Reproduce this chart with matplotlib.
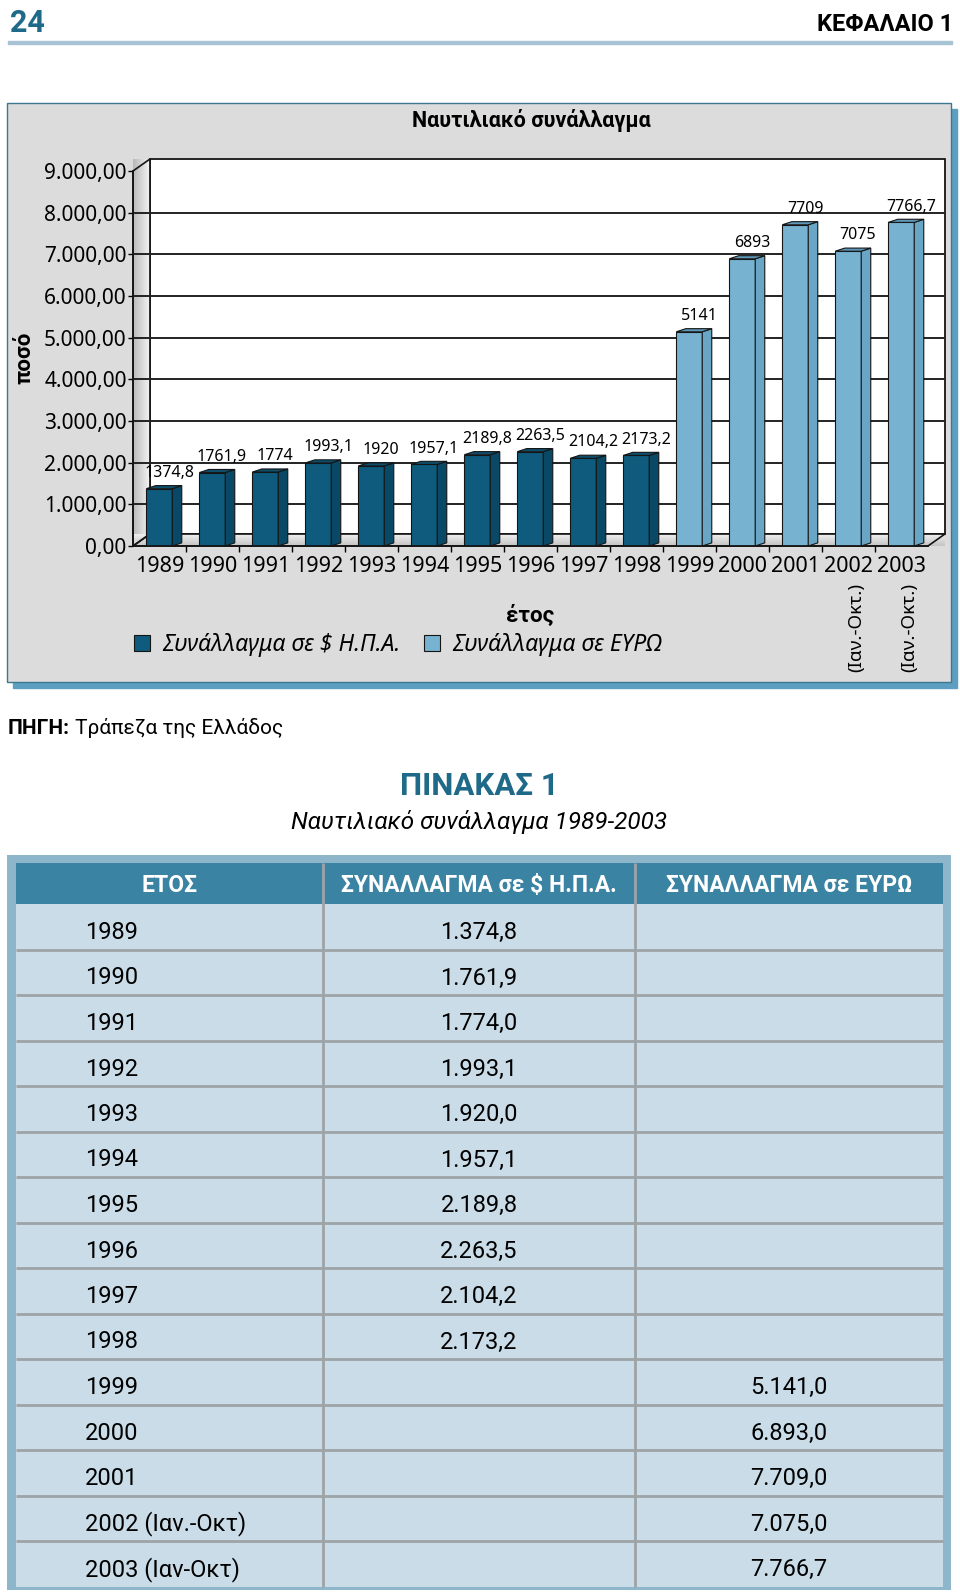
import matplotlib
matplotlib.use("Agg")
import matplotlib.pyplot as plt
import numpy as np
from matplotlib.patches import Rectangle, Polygon
from matplotlib.colors import LinearSegmentedColormap

plt.rcParams.update({"font.family": ["Noto Sans", "DejaVu Sans"]})
COND = ["Roboto", "DejaVu Sans"]

TEAL = "#1e6a88"
USD = "#0e5b7d"; USD_SIDE = "#0a4966"; USD_TOP = "#0c4e6c"
EUR = "#77b2d1"; EUR_SIDE = "#69a5c5"; EUR_TOP = "#5e98b8"
EDGE = "#151515"

# ---------- data ----------
years = ["1989", "1990", "1991", "1992", "1993", "1994", "1995", "1996",
         "1997", "1998", "1999", "2000", "2001", "2002", "2003"]
usd = [1374.8, 1761.9, 1774.0, 1993.1, 1920.0, 1957.1, 2189.8, 2263.5, 2104.2, 2173.2]
eur = [5141.0, 6893.0, 7709.0, 7075.0, 7766.7]
partial = "(Ιαν.-Οκτ.)"
partial_years = ["2002", "2003"]
y_ticks = [0, 1000, 2000, 3000, 4000, 5000, 6000, 7000, 8000, 9000]
table_years = years[:13] + ["2002 (Ιαν.-Οκτ)", "2003 (Ιαν-Οκτ)"]
table_head = ["ΕΤΟΣ", "ΣΥΝΑΛΛΑΓΜΑ σε $ Η.Π.Α.", "ΣΥΝΑΛΛΑΓΜΑ σε ΕΥΡΩ"]
legend_labels = ["Συνάλλαγμα σε $ Η.Π.Α.", "Συνάλλαγμα σε ΕΥΡΩ"]


def gr(v, d):
    s = f"{v:,.{d}f}"
    return s.replace(",", "X").replace(".", ",").replace("X", ".")


def lab(v):
    return f"{v:.1f}".rstrip("0").rstrip(".").replace(".", ",")


W, H = 960, 1596
fig = plt.figure(figsize=(W / 100, H / 100), dpi=100)
page = fig.add_axes([0, 0, 1, 1])
page.set_xlim(0, W); page.set_ylim(H, 0); page.axis("off")

# ---------- page header ----------
page.text(10, 32, "24", color=TEAL, fontsize=22, fontweight="bold", family=COND, va="baseline")
page.text(953, 31, "ΚΕΦΑΛΑΙΟ 1", ha="right", va="baseline", fontsize=17,
          fontweight="bold", family=COND)
page.add_patch(Rectangle((8, 40.5), 944, 3.5, color="#a8c3d3"))

# ---------- chart panel ----------
page.add_patch(Rectangle((13, 109), 944, 579, color="#5d9fc1"))
page.add_patch(Rectangle((7, 103), 944, 579, fc="#dcdcdc", ec="#3c7890", lw=1))
page.text(531, 121, "Ναυτιλιακό συνάλλαγμα", ha="center", va="center", fontsize=15.5,
          fontweight="bold", family=COND)
page.text(24, 358, "ποσό", rotation=90, ha="center", va="center", fontsize=16,
          fontweight="bold", family=COND)
page.text(530, 616, "έτος", ha="center", va="center", fontsize=16, fontweight="bold", family=COND)

x0, x1, y0, y9 = 133, 928, 546, 171
ax = fig.add_axes([x0 / W, 1 - y0 / H, (x1 - x0) / W, (y0 - y9) / H])
ax.patch.set_visible(False)
DX, DY = 0.32, 288   # depth offset of back wall (category units, value units)

ax.add_patch(Rectangle((-0.5 + DX, DY), 15, 9000, fc="white", ec=EDGE, lw=1.3,
                       clip_on=False, zorder=0))
lwall = Polygon([(-0.5, 0), (-0.5, 9000), (-0.5 + DX, 9000 + DY), (-0.5 + DX, DY)],
                closed=True, fc="none", ec=EDGE, lw=1.2, clip_on=False, zorder=1.5)
ax.add_patch(lwall)
im = ax.imshow(np.linspace(0, 1, 64)[None, :],
               cmap=LinearSegmentedColormap.from_list("w", ["#b9b9b9", "#f4f4f4"]),
               extent=[-0.5, -0.5 + DX, 0, 9000 + DY], aspect="auto", zorder=1, clip_on=False)
im.set_clip_path(lwall)
floor = Polygon([(-0.5, 0), (14.5, 0), (14.5 + DX, DY), (-0.5 + DX, DY)],
                closed=True, fc="none", ec=EDGE, lw=1.2, clip_on=False, zorder=1.5)
ax.add_patch(floor)
im2 = ax.imshow(np.linspace(0, 1, 32)[:, None],
                cmap=LinearSegmentedColormap.from_list("f", ["#c4c4c4", "#f0f0f0"]),
                extent=[-0.5, 14.5 + DX, 0, DY], aspect="auto", origin="lower", zorder=1, clip_on=False)
im2.set_clip_path(floor)
ax.hlines(y_ticks[1:-1], -0.5, 14.5 + DX, color="#222", lw=1.4, zorder=1.6, clip_on=False)

xs = np.arange(len(years))
BW, OFF, SDX, SDY = 0.49, -0.25, 0.18, 75
b1 = ax.bar(xs[:10] + OFF, usd, BW, align="edge", color=USD, ec=EDGE, lw=0.8, zorder=3)
b2 = ax.bar(xs[10:] + OFF, eur, BW, align="edge", color=EUR, ec=EDGE, lw=0.8, zorder=3)
for x, v in zip(xs, usd + eur):
    side, top = (USD_SIDE, USD_TOP) if x < 10 else (EUR_SIDE, EUR_TOP)
    l, r = x + OFF, x + OFF + BW
    ax.add_patch(Polygon([(r, 0), (r + SDX, SDY), (r + SDX, v + SDY), (r, v)],
                         fc=side, ec=EDGE, lw=0.8, zorder=3))
    ax.add_patch(Polygon([(l, v), (r, v), (r + SDX, v + SDY), (l + SDX, v + SDY)],
                         fc=top, ec=EDGE, lw=0.8, zorder=3, clip_on=False))
    ax.text(x + 0.18, v + 380, lab(v), ha="center", va="center", fontsize=11.5, zorder=4)

ax.set_xlim(-0.5, 14.5); ax.set_ylim(0, 9000)
for s in ("top", "right"):
    ax.spines[s].set_visible(False)
for s in ("left", "bottom"):
    ax.spines[s].set_linewidth(1.3); ax.spines[s].set_color(EDGE); ax.spines[s].set_zorder(5)
ax.set_yticks(y_ticks)
ax.set_yticklabels([gr(v, 2) for v in y_ticks], fontsize=15)
ax.tick_params(axis="y", direction="out", length=3.5, width=1, pad=1)
ax.set_xticks(xs)
ax.set_xticklabels(years, fontsize=15.5)
ax.tick_params(axis="x", which="major", length=0, pad=7)
ax.set_xticks(xs[:-1] + 0.5, minor=True)
ax.tick_params(axis="x", which="minor", direction="out", length=4, width=1)
for yr in partial_years:
    ax.text(years.index(yr) + 0.15, -0.216, partial, transform=ax.get_xaxis_transform(),
            rotation=90, ha="center", va="center", fontsize=13.5)

ax.legend(handles=[b1, b2], labels=legend_labels, loc="center left",
          bbox_to_anchor=(134 / W, 1 - 645 / H), bbox_transform=fig.transFigure,
          ncol=2, frameon=False, prop=dict(style="italic", size=16.5),
          handlelength=0.7, handleheight=0.7, handletextpad=0.55,
          columnspacing=1.0, borderpad=0, borderaxespad=0)

# ---------- source + table ----------
t = page.text(8, 734, "ΠΗΓΗ:", fontsize=15, fontweight="bold", family=COND, va="baseline")
page.annotate(" Τράπεζα της Ελλάδος", xy=(1, 0), xycoords=t, va="bottom", ha="left",
              fontsize=15, family=COND)
page.text(479, 795, "ΠΙΝΑΚΑΣ 1", ha="center", va="baseline", fontsize=22.5,
          fontweight="bold", color=TEAL, family=COND)
page.text(479, 829, "Ναυτιλιακό συνάλλαγμα 1989-2003", ha="center", va="baseline",
          fontsize=17.5, style="italic", family=COND)

cols = [16, 323, 635, 943]
top_y, head_h, row_h = 863, 41, 45.5
n = len(table_years)
page.add_patch(Rectangle((7, 855), 944, 735, fc="#8db6ca"))
page.add_patch(Rectangle((cols[0], top_y), cols[-1] - cols[0], head_h, fc="#3b83a2"))
page.add_patch(Rectangle((cols[0], top_y + head_h), cols[-1] - cols[0], n * row_h, fc="#c9dce7"))
page.hlines([top_y + head_h + i * row_h for i in range(1, n)], cols[0], cols[-1], color="#9ea3a6", lw=2)
page.vlines(cols[1:3], top_y, top_y + head_h + n * row_h, color="#9ea3a6", lw=2)
for c, h in enumerate(table_head):
    page.text((cols[c] + cols[c + 1]) / 2, top_y + 29, h, ha="center", va="baseline",
              fontsize=16.5, fontweight="bold", color="white", family=COND)
vals_usd = [gr(v, 1) for v in usd] + [""] * len(eur)
vals_eur = [""] * len(usd) + [gr(v, 1) for v in eur]
for i in range(n):
    yb = top_y + head_h + i * row_h + 35
    page.text(85, yb, table_years[i], va="baseline", fontsize=17, family=COND)
    page.text((cols[1] + cols[2]) / 2, yb, vals_usd[i], ha="center", va="baseline", fontsize=17, family=COND)
    page.text((cols[2] + cols[3]) / 2, yb, vals_eur[i], ha="center", va="baseline", fontsize=17, family=COND)

fig.savefig("out.png", dpi=100)
